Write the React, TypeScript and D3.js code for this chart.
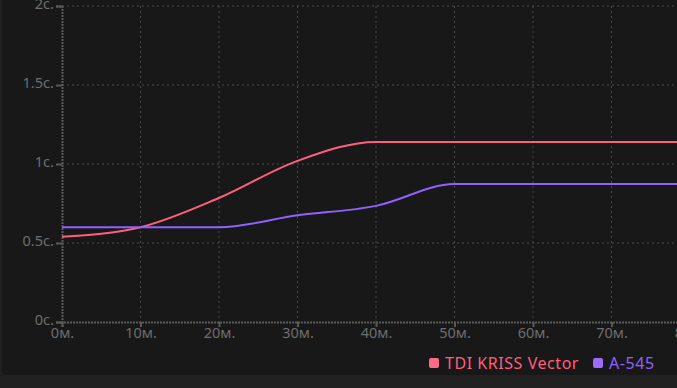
import React, { useEffect, useRef } from "react";
import * as d3 from "d3";

const minutes = [0, 10, 20, 30, 40, 50, 60, 70, 80, 90];
const kriss = [0.54, 0.6, 0.785, 1.02, 1.14, 1.14, 1.14, 1.14, 1.14, 1.14];
const a545 = [0.6, 0.6, 0.6, 0.675, 0.735, 0.873, 0.873, 0.873, 0.873, 0.873];
const xTicks = [0, 10, 20, 30, 40, 50, 60, 70, 80];
const yTicks = [0, 0.5, 1, 1.5, 2];
const seriesNames = ["TDI KRISS Vector", "A-545"];
const seriesColors = ["#ff5f7e", "#9160ff"];
const swatchColors = ["#ff6a86", "#9e6cff"];

const W = 677;
const H = 388;
const FONT = "'Noto Sans', sans-serif";

export default function App() {
  const ref = useRef<SVGSVGElement>(null);

  useEffect(() => {
    const svg = d3.select(ref.current);
    svg.selectAll("*").remove();

    svg.append("rect").attr("width", W).attr("height", H).attr("fill", "#212121");
    svg
      .append("rect")
      .attr("x", 2)
      .attr("y", -10)
      .attr("width", W + 10)
      .attr("height", 385)
      .attr("rx", 4)
      .attr("fill", "#181818");

    const x = d3.scaleLinear().domain([0, 80]).range([62, 690]);
    const y = d3.scaleLinear().domain([0, 2]).range([322, 6]);

    const g = svg.append("g");

    // grid
    g.selectAll(".vgrid")
      .data(xTicks.slice(1))
      .enter()
      .append("line")
      .attr("x1", (d) => x(d))
      .attr("x2", (d) => x(d))
      .attr("y1", y(2))
      .attr("y2", y(0))
      .attr("stroke", "#4a4a4a")
      .attr("stroke-dasharray", "2,3");
    g.selectAll(".hgrid")
      .data(yTicks.slice(1))
      .enter()
      .append("line")
      .attr("x1", x(0))
      .attr("x2", W)
      .attr("y1", (d) => y(d))
      .attr("y2", (d) => y(d))
      .attr("stroke", "#4a4a4a")
      .attr("stroke-dasharray", "2,3");

    // axes
    const xAxis = g
      .append("g")
      .attr("transform", `translate(0,${y(0)})`)
      .call(
        d3
          .axisBottom(x)
          .tickValues(xTicks)
          .tickSize(5)
          .tickFormat((d) => `${d}м.`)
      );
    const yAxis = g
      .append("g")
      .attr("transform", `translate(${x(0)},0)`)
      .call(
        d3
          .axisLeft(y)
          .tickValues(yTicks)
          .tickSize(6)
          .tickFormat((d) => `${d}с.`)
      );
    [xAxis, yAxis].forEach((a) => {
      a.select(".domain").attr("stroke", "#5a5a5a").attr("stroke-width", 2).attr("stroke-dasharray", "2,1");
      a.selectAll(".tick line").attr("stroke", "#5a5a5a").attr("stroke-width", 2);
      a.selectAll("text").attr("fill", "#6e6e6e").style("font-family", FONT).style("font-size", "14.5px");
    });
    xAxis.selectAll("text").attr("dy", "0.55em").attr("y", 8);
    yAxis.selectAll("text").attr("x", -8).attr("dy", "0.2em");

    // lines
    const line = d3
      .line<number>()
      .x((_, i) => x(minutes[i]))
      .y((d) => y(d))
      .curve(d3.curveMonotoneX);
    [kriss, a545].forEach((s, i) => {
      g.append("path")
        .attr("d", line(s))
        .attr("fill", "none")
        .attr("stroke", seriesColors[i])
        .attr("stroke-width", 2);
    });

    // legend
    const legend = svg
      .append("g")
      .style("font-family", FONT)
      .style("font-size", "16px")
      .style("letter-spacing", "0.55px");
    let lx = 429;
    seriesNames.forEach((name, i) => {
      legend
        .append("rect")
        .attr("x", lx)
        .attr("y", 358)
        .attr("width", 10)
        .attr("height", 10)
        .attr("rx", 2)
        .attr("fill", swatchColors[i]);
      const t = legend
        .append("text")
        .attr("x", lx + 16)
        .attr("y", 369)
        .attr("fill", seriesColors[i])
        .text(name);
      const w = (t.node() as SVGTextElement).getComputedTextLength();
      lx += 16 + w + 14;
    });
  }, []);

  return (
    <svg
      ref={ref}
      width={W}
      height={H}
      style={{ display: "block", position: "absolute", left: 0, top: 0 }}
    />
  );
}
